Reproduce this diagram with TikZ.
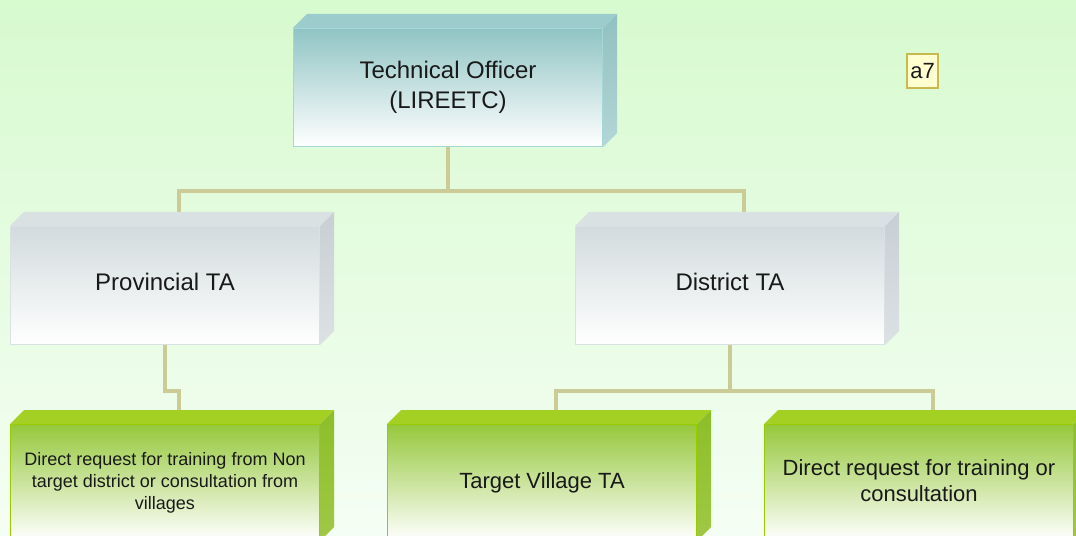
\documentclass[tikz,border=0pt]{standalone}
\usepackage{fontspec}
\setmainfont{Liberation Sans}
\usetikzlibrary{calc}
\pgfdeclarelayer{back}
\pgfdeclarelayer{mid}
\pgfsetlayers{back,mid,main}
\definecolor{bgtop}{RGB}{215,250,207}
\definecolor{bgbot}{RGB}{245,254,244}
\definecolor{conncol}{RGB}{203,203,151}
\definecolor{tealtop}{RGB}{144,196,196}
\definecolor{tealedge}{RGB}{165,215,215}
\definecolor{tealroof}{RGB}{156,204,204}
\definecolor{tealside}{RGB}{146,192,192}
\definecolor{tealsidebot}{RGB}{180,214,214}
\definecolor{graytop}{RGB}{210,219,221}
\definecolor{grayedge}{RGB}{218,225,229}
\definecolor{grayroof}{RGB}{218,225,227}
\definecolor{grayside}{RGB}{200,207,211}
\definecolor{graysidebot}{RGB}{220,225,228}
\definecolor{greentop}{RGB}{150,200,60}
\definecolor{greenedge}{RGB}{153,204,0}
\definecolor{greenroof}{RGB}{164,208,36}
\definecolor{greenside}{RGB}{140,190,40}
\definecolor{greensidebot}{RGB}{160,200,70}
\definecolor{txt}{RGB}{25,25,25}
\definecolor{notefill}{RGB}{255,255,208}
\definecolor{noteedge}{RGB}{200,185,80}
\tikzset{
  face/.style={anchor=north west, inner sep=0pt, align=center, text=txt,
    minimum width=309bp, minimum height=118bp, line width=1bp, shading=axis},
  tealface/.style={face, draw=tealedge, top color=tealtop, bottom color=white},
  grayface/.style={face, draw=grayedge, top color=graytop, bottom color=white},
  greenface/.style={face, draw=greenedge, top color=greentop, bottom color=white, minimum height=116bp},
  conn/.style={draw=conncol, line width=4bp},
}
\newcommand{\boxfaces}[4]{%
  \fill[#2] (#1.north west) -- ++(14,-14) -- ($(#1.north east)+(14,-14)$) -- (#1.north east) -- cycle;
  \shade[top color=#3, bottom color=#4] (#1.north east) -- ++(14,-14) -- ($(#1.south east)+(14,-14)$) -- (#1.south east) -- cycle;
}
\begin{document}
\begin{tikzpicture}[x=1bp,y=-1bp]
\useasboundingbox (0,0) rectangle (1076,536);
\clip (0,0) rectangle (1076,536);
\begin{pgfonlayer}{back}
\shade[top color=bgtop, bottom color=bgbot] (0,0) rectangle (1076,536);
\end{pgfonlayer}

% boxes (front faces)
\node[tealface, font=\fontsize{24bp}{30bp}\selectfont] (top) at (293,28) {Technical Officer\\(LIREETC)};
\node[grayface, text height=17bp, text depth=6bp, font=\fontsize{24bp}{30bp}\selectfont] (prov) at (10,226) {Provincial TA};
\node[grayface, text height=17bp, text depth=6bp, font=\fontsize{24bp}{30bp}\selectfont] (dist) at (575,226) {District TA};
\node[greenface, font=\fontsize{18bp}{22bp}\selectfont] (bl) at (10,424) {Direct request for training from Non\\target district or consultation from\\villages};
\node[greenface, font=\fontsize{22bp}{26bp}\selectfont] (tv) at (387,424) {Target Village TA};
\node[greenface, yshift=0bp, font=\fontsize{22bp}{26bp}\selectfont] (dr) at (764,424) {Direct request for training or\\consultation\rule[-4bp]{0pt}{0pt}};

% 3D faces
\boxfaces{top}{tealroof}{tealside}{tealsidebot}
\boxfaces{prov}{grayroof}{grayside}{graysidebot}
\boxfaces{dist}{grayroof}{grayside}{graysidebot}
\boxfaces{bl}{greenroof}{greenside}{greensidebot}
\boxfaces{tv}{greenroof}{greenside}{greensidebot}
\boxfaces{dr}{greenroof}{greenside}{greensidebot}

% roof centres and elbows
\coordinate (provtf) at ($(prov.north)+(14,-14)$);
\coordinate (disttf) at ($(dist.north)+(14,-14)$);
\coordinate (bltf) at ($(bl.north)+(14,-14)$);
\coordinate (tvtf) at ($(tv.north)+(14,-14)$);
\coordinate (drtf) at ($(dr.north)+(14,-14)$);
\coordinate (j1) at ($(top.south)+(0,44)$);
\coordinate (j2) at ($(prov.south)+(0,46)$);
\coordinate (j3) at ($(dist.south)+(0,46)$);

% connectors, under the boxes
\begin{pgfonlayer}{mid}
\draw[conn] (top.south) -- (j1) -| (provtf);
\draw[conn] (j1) -| (disttf);
\draw[conn] (prov.south) -- (j2) -| (bltf);
\draw[conn] (dist.south) -- (j3) -| (tvtf);
\draw[conn] (j3) -| (drtf);
\end{pgfonlayer}

% note
\node[draw=noteedge, fill=notefill, line width=1.2bp, minimum width=31bp, minimum height=34bp, inner sep=0pt, text=txt, font=\fontsize{22bp}{26bp}\selectfont] (a7) at (922.5,71) {a7};
\end{tikzpicture}
\end{document}
